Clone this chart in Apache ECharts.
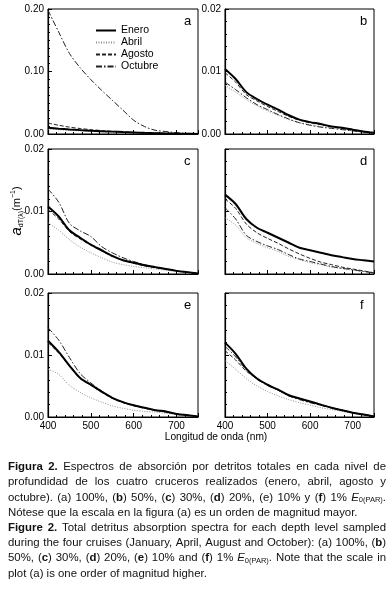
<!DOCTYPE html>
<html><head><meta charset="utf-8">
<script src="https://cdn.jsdelivr.net/npm/echarts@6/dist/echarts.min.js"></script>
<style>html,body{margin:0;padding:0;background:#fff}#c{width:391px;height:589px}</style>
</head><body><div id="c"></div>
<script>
// ---- data ----
const wavelengths = [400,425,450,475,500,525,550,575,600,625,650,675,700,725,750];
const months = ['Enero','Abril','Agosto','Octubre'];
const panelLetters = ['a','b','c','d','e','f'];
const xTicks = [400,500,600,700];

const aEnero   = [0.0100,0.0085,0.0072,0.0062,0.0053,0.0045,0.0038,0.0031,0.0025,0.0019,0.0014,0.0010,0.0007,0.0004,0.0002];
const aAbril   = [0.0080,0.0068,0.0058,0.0050,0.0043,0.0036,0.0030,0.0025,0.0020,0.0016,0.0012,0.0009,0.0006,0.0004,0.0002];
const aAgosto  = [0.0175,0.0140,0.0110,0.0088,0.0070,0.0055,0.0043,0.0034,0.0026,0.0020,0.0015,0.0011,0.0008,0.0005,0.0003];
const aOctubre = [0.198,0.163,0.129,0.106,0.087,0.070,0.054,0.038,0.022,0.012,0.006,0.004,0.002,0.001,0.0005];

const bEnero   = [0.0104,0.0088,0.0067,0.0056,0.0047,0.0039,0.0030,0.0023,0.0019,0.0016,0.0012,0.0010,0.0007,0.0004,0.0002];
const bAbril   = [0.0078,0.0067,0.0055,0.0045,0.0037,0.0030,0.0023,0.0018,0.0015,0.0012,0.0010,0.0008,0.0005,0.0003,0.0001];
const bAgosto  = [0.0098,0.0083,0.0063,0.0053,0.0044,0.0036,0.0028,0.0022,0.0018,0.0015,0.0012,0.0009,0.0006,0.0004,0.0002];
const bOctubre = [0.0083,0.0071,0.0058,0.0047,0.0039,0.0031,0.0024,0.0018,0.0014,0.0011,0.0009,0.0007,0.0005,0.0003,0.0001];

const cEnero   = [0.0108,0.0092,0.0070,0.0058,0.0047,0.0038,0.0029,0.0022,0.0018,0.0014,0.0011,0.0008,0.0005,0.0003,0.0001];
const cAbril   = [0.0082,0.0070,0.0055,0.0043,0.0034,0.0026,0.0019,0.0015,0.0012,0.0010,0.0008,0.0006,0.0004,0.0002,0.0001];
const cAgosto  = [0.0103,0.0088,0.0068,0.0056,0.0046,0.0037,0.0028,0.0022,0.0017,0.0013,0.0010,0.0008,0.0005,0.0003,0.0001];
const cOctubre = [0.0136,0.0115,0.0081,0.0069,0.0060,0.0044,0.0034,0.0026,0.0020,0.0015,0.0011,0.0008,0.0005,0.0003,0.0001];

const dEnero   = [0.0127,0.0112,0.0088,0.0074,0.0066,0.0058,0.0050,0.0042,0.0038,0.0034,0.0030,0.0027,0.0024,0.0022,0.0020];
const dAbril   = [0.0090,0.0078,0.0058,0.0049,0.0042,0.0036,0.0028,0.0023,0.0018,0.0015,0.0011,0.0009,0.0006,0.0004,0.0002];
const dAgosto  = [0.0120,0.0105,0.0080,0.0066,0.0057,0.0049,0.0040,0.0032,0.0025,0.0019,0.0015,0.0011,0.0008,0.0005,0.0002];
const dOctubre = [0.0106,0.0088,0.0062,0.0052,0.0045,0.0039,0.0031,0.0024,0.0020,0.0016,0.0012,0.0009,0.0007,0.0004,0.0002];

const eEnero   = [0.0123,0.0105,0.0083,0.0063,0.0052,0.0041,0.0031,0.0024,0.0019,0.0015,0.0011,0.0009,0.0005,0.0003,0.0001];
const eAbril   = [0.0077,0.0069,0.0051,0.0040,0.0031,0.0024,0.0018,0.0014,0.0011,0.0009,0.0008,0.0006,0.0004,0.0002,0.0001];
const eAgosto  = [0.0120,0.0103,0.0082,0.0062,0.0051,0.0040,0.0030,0.0023,0.0018,0.0014,0.0011,0.0008,0.0005,0.0003,0.0001];
const eOctubre = [0.0144,0.0124,0.0096,0.0070,0.0055,0.0042,0.0031,0.0024,0.0019,0.0015,0.0011,0.0008,0.0005,0.0003,0.0001];

const fEnero   = [0.0120,0.0102,0.0078,0.0062,0.0052,0.0044,0.0035,0.0030,0.0025,0.0020,0.0015,0.0011,0.0007,0.0004,0.0001];
const fAbril   = [0.0091,0.0077,0.0062,0.0050,0.0041,0.0034,0.0028,0.0023,0.0019,0.0015,0.0012,0.0009,0.0006,0.0003,0.0001];
const fAgosto  = [0.0107,0.0092,0.0074,0.0062,0.0052,0.0043,0.0035,0.0029,0.0024,0.0019,0.0015,0.0011,0.0007,0.0004,0.0001];
const fOctubre = [0.0114,0.0097,0.0076,0.0061,0.0051,0.0043,0.0034,0.0028,0.0023,0.0019,0.0015,0.0011,0.0007,0.0004,0.0001];

const yMaxA = 0.20, yIntA = 0.10;
const yMax = 0.02, yInt = 0.01;

const xTitle = 'Longitud de onda (nm)';
const captionLines = [
  '{b|Figura 2.} Espectros de absorción por detritos totales en cada nivel de',
  'profundidad de los cuatro cruceros realizados (enero, abril, agosto y',
  'octubre). (a) 100%, ({b|b}) 50%, ({b|c}) 30%, ({b|d}) 20%, (e) 10% y ({b|f}) 1% {i|E}{s|0(PAR)}.',
  'Nótese que la escala en la figura (a) es un orden de magnitud mayor.',
  '{b|Figure 2.} Total detritus absorption spectra for each depth level sampled',
  'during the four cruises (January, April, August and October): (a) 100%, ({b|b})',
  '50%, ({b|c}) 30%, ({b|d}) 20%, ({b|e}) 10% and ({b|f}) 1% {i|E}{s|0(PAR)}. Note that the scale in',
  'plot (a) is one order of magnitud higher.'
];
const captionJustify = [true, true, true, false, true, true, true, false];

// ---- layout ----
const panelData = [
  [aEnero,aAbril,aAgosto,aOctubre],
  [bEnero,bAbril,bAgosto,bOctubre],
  [cEnero,cAbril,cAgosto,cOctubre],
  [dEnero,dAbril,dAgosto,dOctubre],
  [eEnero,eAbril,eAgosto,eOctubre],
  [fEnero,fAbril,fAgosto,fOctubre]
];
const FAM = '"Liberation Sans", Arial, sans-serif';
const L = [48, 225], W = [150, 149];
const T = [9, 149, 293], H = [125, 125, 124];
const lineStyles = {
  Enero:   {color:'#000', width:2, type:'solid'},
  Abril:   {color:'#909090', width:1, type:[1,1.5]},
  Agosto:  {color:'#222', width:1, type:[4,2]},
  Octubre: {color:'#222', width:1, type:[6,2,1.5,2]}
};

const grid = [], xAxis = [], yAxis = [], series = [], graphic = [];
for (let i = 0; i < 6; i++) {
  const col = i % 2, row = Math.floor(i / 2);
  grid.push({left:L[col], top:T[row], width:W[col], height:H[row], show:true,
    borderColor:'#000', borderWidth:1, backgroundColor:'transparent', containLabel:false});
  xAxis.push({type:'value', gridIndex:i, min:xTicks[0], max:750, interval:100,
    axisLine:{onZero:false, lineStyle:{color:'#000', width:1.2}},
    axisTick:{inside:true, length:4, lineStyle:{color:'#000'}},
    minorTick:{show:true, splitNumber:5, length:2, lineStyle:{color:'#000'}},
    splitLine:{show:false},
    axisLabel:{show: row === 2, showMaxLabel:false, fontSize:10, color:'#000', margin:4, fontFamily:FAM}});
  const isA = i === 0;
  yAxis.push({type:'value', gridIndex:i, min:0, max: isA ? yMaxA : yMax, interval: isA ? yIntA : yInt,
    axisLine:{onZero:false, lineStyle:{color:'#000', width:1.2}},
    axisTick:{inside:true, length:4, lineStyle:{color:'#000'}},
    minorTick:{show:true, splitNumber: isA ? 8 : 5, length:2, lineStyle:{color:'#000'}},
    splitLine:{show:false},
    axisLabel:{show: col === 0 || i === 1, fontSize:10, color:'#000', margin:4, fontFamily:FAM,
      formatter: v => v.toFixed(2)}});
  months.forEach((m, k) => {
    series.push({type:'line', name:m, xAxisIndex:i, yAxisIndex:i, symbol:'none', smooth:0.3,
      data: wavelengths.map((w, j) => [w, panelData[i][k][j]]),
      lineStyle: lineStyles[m], itemStyle:{color: lineStyles[m].color},
      z: m === 'Enero' ? 3 : 2, silent:true});
  });
  graphic.push({type:'text', left: L[col] + W[col] - 14, top: T[row] + 6,
    style:{text: panelLetters[i], fontSize:13, fontFamily:FAM, fill:'#000'}});
}

graphic.push({type:'text', x:17, y:211, rotation: Math.PI/2,
  style:{text:'{a|a}{s|dT(λ)}{n|(m}{p|−1}{n|)}', align:'center', verticalAlign:'middle', fill:'#000',
    rich:{
      a:{fontSize:15, fontStyle:'italic', fontFamily:FAM, verticalAlign:'middle'},
      s:{fontSize:7, fontFamily:FAM, verticalAlign:'bottom', padding:[6,0,0,0]},
      n:{fontSize:11, fontFamily:FAM, verticalAlign:'middle'},
      p:{fontSize:7, fontFamily:FAM, verticalAlign:'top', padding:[0,0,6,0]}
    }}});
graphic.push({type:'text', x:216, y:437,
  style:{text:xTitle, align:'center', verticalAlign:'middle', fontSize:10.2, fontFamily:FAM, fill:'#000'}});

// ---- caption: justified word placement ----
const CFS = 11.4, SUBFS = 7.5;
const capX0 = 8, capX1 = 386, capY0 = 467, capDY = 15.2;
const mctx = document.createElement('canvas').getContext('2d');
const fontFor = st => st === 'b' ? `bold ${CFS}px ${FAM}` : st === 'i' ? `italic ${CFS}px ${FAM}` :
  st === 's' ? `${SUBFS}px ${FAM}` : `${CFS}px ${FAM}`;
function measure(st, t) { mctx.font = fontFor(st); return mctx.measureText(t).width; }
function parseWords(s) {
  const segs = []; const re = /\{(\w)\|([^}]*)\}/g; let last = 0, m;
  while ((m = re.exec(s))) {
    if (m.index > last) segs.push({st:'n', t:s.slice(last, m.index)});
    segs.push({st:m[1], t:m[2]}); last = re.lastIndex;
  }
  if (last < s.length) segs.push({st:'n', t:s.slice(last)});
  const words = [[]];
  segs.forEach(sg => sg.t.split(' ').forEach((p, idx) => {
    if (idx > 0) words.push([]);
    if (p) words[words.length - 1].push({st:sg.st, t:p});
  }));
  return words.filter(w => w.length);
}
const capRich = {
  b:{fontSize:CFS, fontWeight:'bold', fontFamily:FAM},
  i:{fontSize:CFS, fontStyle:'italic', fontFamily:FAM},
  s:{fontSize:SUBFS, fontFamily:FAM, verticalAlign:'bottom', padding:[5,0,0,0]}
};
captionLines.forEach((line, k) => {
  const words = parseWords(line);
  const widths = words.map(w => w.reduce((a, p) => a + measure(p.st, p.t), 0));
  const total = widths.reduce((a, b) => a + b, 0);
  const gap = captionJustify[k] ? (capX1 - capX0 - total) / (words.length - 1) : measure('n', ' ');
  let x = capX0;
  words.forEach((w, j) => {
    const txt = w.map(p => p.st === 'n' ? p.t : `{${p.st}|${p.t}}`).join('');
    graphic.push({type:'text', x: x, y: capY0 + k * capDY,
      style:{text:txt, align:'left', verticalAlign:'middle', fontSize:CFS, fontFamily:FAM, fill:'#111', rich:capRich}});
    x += widths[j] + gap;
  });
});

const chart = echarts.init(document.getElementById('c'), null, {renderer:'canvas'});
chart.setOption({
  animation:false,
  backgroundColor:'#fff',
  grid, xAxis, yAxis, series, graphic,
  legend:{data:months, orient:'vertical', left:90, top:20, itemWidth:20, itemHeight:8, itemGap:1,
    selectedMode:false, itemStyle:{opacity:0},
    textStyle:{fontSize:10.5, lineHeight:10, color:'#000', fontFamily:FAM}}
});
</script>
</body></html>
